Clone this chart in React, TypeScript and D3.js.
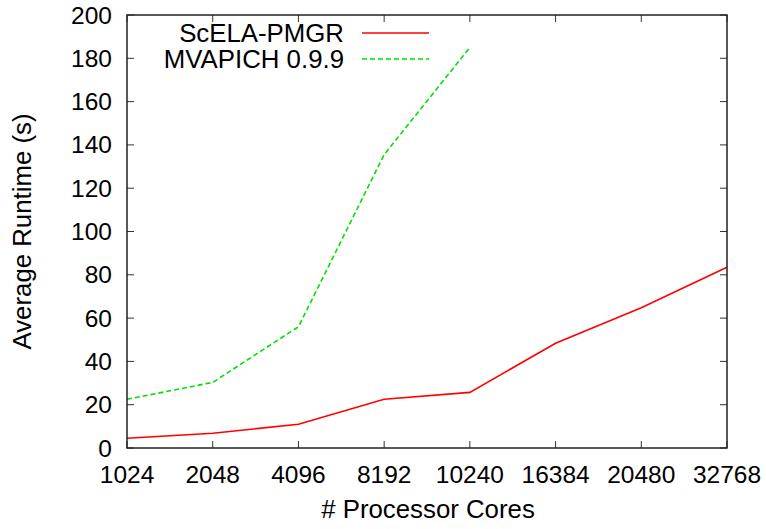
import { useEffect, useRef } from 'react';
import * as d3 from 'd3';

const cores = ['1024', '2048', '4096', '8192', '10240', '16384', '20480', '32768'];
const scelaRuntime = [4.5, 6.8, 11, 22.5, 25.7, 48.4, 64.8, 83.5];
const mvapichRuntime = [22.5, 30.3, 56, 135.5, 185];
const yTicks = [0, 20, 40, 60, 80, 100, 120, 140, 160, 180, 200];

const seriesNames = ['ScELA-PMGR', 'MVAPICH 0.9.9'];
const seriesColors = ['#ff0000', '#00e000'];

export default function App() {
  const svgRef = useRef<SVGSVGElement>(null);

  useEffect(() => {
    if (!svgRef.current) return;
    const W = 766;
    const H = 529;
    const margin = { top: 15, right: 39, bottom: 81, left: 127 };
    const width = W - margin.left - margin.right;
    const height = H - margin.top - margin.bottom;
    const font = '"Liberation Sans", Arial, sans-serif';
    const tickFs = '24.5px';
    const labelFs = '25.8px';

    const root = d3.select(svgRef.current);
    root.selectAll('*').remove();
    root.attr('width', W).attr('height', H);

    const svg = root.append('g').attr('transform', `translate(${margin.left},${margin.top})`);

    const x = d3.scalePoint<string>().domain(cores).range([0, width]);
    const y = d3.scaleLinear().domain([0, 200]).range([height, 0]);

    // ticks (inward, mirrored like gnuplot)
    const tickLen = 7;
    const tickColor = '#333';
    yTicks.forEach((t) => {
      svg.append('line').attr('x1', 0).attr('x2', tickLen).attr('y1', y(t)).attr('y2', y(t))
        .attr('stroke', tickColor).attr('stroke-width', 1);
      svg.append('line').attr('x1', width - tickLen).attr('x2', width).attr('y1', y(t)).attr('y2', y(t))
        .attr('stroke', tickColor).attr('stroke-width', 1);
      svg.append('text').attr('x', -15).attr('y', y(t)).attr('dy', '0.35em')
        .attr('text-anchor', 'end').style('font-family', font).style('font-size', tickFs)
        .style('fill', '#000').text(String(t));
    });
    cores.forEach((c) => {
      const px = x(c) || 0;
      svg.append('line').attr('x1', px).attr('x2', px).attr('y1', height).attr('y2', height - tickLen)
        .attr('stroke', tickColor).attr('stroke-width', 1);
      svg.append('line').attr('x1', px).attr('x2', px).attr('y1', 0).attr('y2', tickLen)
        .attr('stroke', tickColor).attr('stroke-width', 1);
      svg.append('text').attr('x', px).attr('y', height + 35)
        .attr('text-anchor', 'middle').style('font-family', font).style('font-size', tickFs)
        .style('fill', '#000').text(c);
    });

    // lines
    const line = d3.line<number>()
      .x((_, i) => x(cores[i]) || 0)
      .y((d) => y(d));

    svg.append('path').datum(scelaRuntime).attr('d', line)
      .attr('fill', 'none').attr('stroke', seriesColors[0]).attr('stroke-width', 1.6);
    svg.append('path').datum(mvapichRuntime).attr('d', line)
      .attr('fill', 'none').attr('stroke', seriesColors[1]).attr('stroke-width', 1.6)
      .attr('stroke-dasharray', '5,3');

    // frame
    svg.append('rect').attr('x', 0).attr('y', 0).attr('width', width).attr('height', height)
      .attr('fill', 'none').attr('stroke', '#222').attr('stroke-width', 1.5);

    // legend
    seriesNames.forEach((name, i) => {
      const ly = 18 + i * 26;
      svg.append('text').attr('x', 217).attr('y', ly).attr('dy', '0.35em')
        .attr('text-anchor', 'end').style('font-family', font).style('font-size', labelFs)
        .style('fill', '#000').text(name);
      svg.append('line').attr('x1', 235).attr('x2', 302).attr('y1', ly).attr('y2', ly)
        .attr('stroke', seriesColors[i]).attr('stroke-width', 1.6)
        .attr('stroke-dasharray', i === 1 ? '5,3' : null);
    });

    // axis titles
    root.append('text').attr('x', margin.left + width / 2 + 1).attr('y', 518)
      .attr('text-anchor', 'middle').style('font-family', font).style('font-size', labelFs)
      .style('fill', '#000').text('# Processor Cores');
    root.append('text').attr('transform', `translate(31,${margin.top + height / 2}) rotate(-90)`)
      .attr('text-anchor', 'middle').style('font-family', font).style('font-size', labelFs)
      .style('fill', '#000').text('Average Runtime (s)');
  }, []);

  return (
    <div style={{ position: 'absolute', left: 0, top: 0, background: '#fff' }}>
      <svg ref={svgRef} style={{ display: 'block' }} />
    </div>
  );
}
